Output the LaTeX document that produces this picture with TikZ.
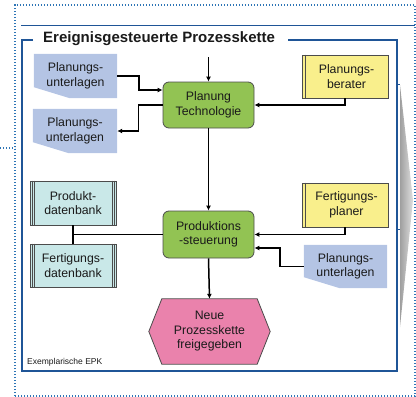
\documentclass[tikz,border=0pt]{standalone}
\usepackage{fontspec}
\setmainfont{Liberation Sans}
\usetikzlibrary{arrows.meta,backgrounds}
\definecolor{docblue}{HTML}{B4C4E4}
\definecolor{epkgreen}{HTML}{92C353}
\definecolor{epkyellow}{HTML}{F9EF8C}
\definecolor{epkcyan}{HTML}{C9E8E8}
\definecolor{epkpink}{HTML}{EA82AC}
\definecolor{framecol}{HTML}{1F5597}
\definecolor{dotcol}{HTML}{2E75B6}
\definecolor{txtcol}{HTML}{1A1A1A}
\begin{document}
\begin{tikzpicture}[x=1pt,y=-1pt,
  txt/.style={font=\fontsize{12.3}{14.5}\selectfont, align=center, inner sep=0pt, text=txtcol},
  shp/.style={draw=black!70, line width=0.8pt},
  conn/.style={line width=1.5pt, black},
  arr/.style={conn, -{Latex[length=5pt,width=5pt]}},
  dots/.style={dotcol, line width=1.3pt, dash pattern=on 1.3pt off 1.7pt},
  frame/.style={framecol, line width=2pt}]
\useasboundingbox (0,0) rectangle (416,397);

% outer dotted border
\draw[dots] (15,396) -- (15,5) -- (415,5) -- (415,396) -- cycle;
\draw[dots] (0,148) -- (15,148);
\draw[framecol, line width=0.8pt] (21,25) -- (415,25);

% gray chevron at the right
\shade[left color=gray!75, right color=gray!25] (400,85) -- (413,200) -- (400,327) -- cycle;

% frame
\draw[frame] (33,40) -- (22,40) -- (22,371) -- (396.5,371) -- (396.5,40) -- (288,40);
\draw[framecol, line width=0.8pt] (396.5,84) -- (399.5,84) (396.5,229) -- (399.5,229);
\node[font=\bfseries\fontsize{15}{17}\selectfont, anchor=west, inner sep=0pt, text=txtcol] (title) at (43,39) {Ereignisgesteuerte Prozesskette};
\node[font=\fontsize{8.5}{10}\selectfont, anchor=west, inner sep=0pt, text=txtcol] (lbl) at (27,362) {Exemplarische EPK};

% document shapes
\node[txt, minimum width=83pt, minimum height=44pt] (d1) at (75.5,76) {Planungs-\\unterlagen};
\node[txt, minimum width=84pt, minimum height=44pt] (d2) at (75,131) {Planungs-\\unterlagen};
\node[txt, minimum width=83pt, minimum height=43pt] (d3) at (345.5,266.5) {Planungs-\\unterlagen};
\begin{scope}[on background layer]
\foreach \d in {d1,d2,d3}{
  \fill[docblue] (\d.north west) -- (\d.north east) -- (\d.south east)
     -- ([xshift=36pt]\d.south west) -- ([yshift=11pt]\d.south west) -- cycle;
}
\end{scope}

% functions
\node[txt, shp, fill=epkgreen, rounded corners=6pt, minimum width=91pt, minimum height=46pt] (pt) at (208.5,105) {Planung\\Technologie};
\node[txt, shp, fill=epkgreen, rounded corners=6pt, minimum width=91pt, minimum height=47pt] (ps) at (208.5,234.5) {Produktions\\-steuerung};

% organisational units
\node[txt, shp, fill=epkyellow, minimum width=86pt, minimum height=43pt] (pb) at (345,76.5) {\hspace*{3pt}Planungs-\\\hspace*{3pt}berater};
\node[txt, shp, fill=epkyellow, minimum width=86pt, minimum height=44pt] (fp) at (345,205) {\hspace*{3pt}Fertigungs-\\\hspace*{3pt}planer};
\foreach \n in {pb,fp}{
  \draw[shp] ([xshift=4pt]\n.north west) -- ([xshift=4pt]\n.south west);
}

% databases
\node[txt, shp, fill=epkcyan, minimum width=86pt, minimum height=44pt] (db1) at (73,203) {Produkt-\\datenbank};
\node[txt, shp, fill=epkcyan, minimum width=86pt, minimum height=43pt] (db2) at (73,265.5) {Fertigungs-\\datenbank};
\foreach \n in {db1,db2}{
  \draw[black!70, line width=0.6pt]
    ([xshift=2.2pt]\n.north west) -- ([xshift=2.2pt]\n.south west)
    ([xshift=4.4pt]\n.north west) -- ([xshift=4.4pt]\n.south west)
    ([xshift=-2.2pt]\n.north east) -- ([xshift=-2.2pt]\n.south east)
    ([xshift=-4.4pt]\n.north east) -- ([xshift=-4.4pt]\n.south east);
}

% event
\node[txt, minimum width=121pt, minimum height=65pt] (hex) at (209.5,331.5) {Neue\\Prozesskette\\freigegeben};
\begin{scope}[on background layer]
\draw[shp, fill=epkpink] (hex.west) -- ([xshift=13pt]hex.north west) -- ([xshift=-13pt]hex.north east)
  -- (hex.east) -- ([xshift=-13pt]hex.south east) -- ([xshift=13pt]hex.south west) -- cycle;
\end{scope}

% connectors
\coordinate (top) at (208.5,57);
\draw[arr] (top) -- (pt.north);
\draw[arr] (d1.east) -- ++(22,0) |- ([yshift=15pt]pt.west);
\draw[arr] (pt.west) -- ++(-24,0) |- (d2.east);
\draw[arr] (pb.south) |- (pt.east);
\draw[arr] (pt.south) -- (ps.north);
\draw[conn] (db1.south) -- (db2.north);
\draw[conn] (ps.west) -- (db1.south |- ps.west);
\draw[arr] (fp.south) |- (ps.east);
\draw[arr] (d3.west) -- ++(-24,0) |- ([yshift=-13.5pt]ps.east);
\draw[arr] (ps.south) -- (hex.north);
\end{tikzpicture}
\end{document}
